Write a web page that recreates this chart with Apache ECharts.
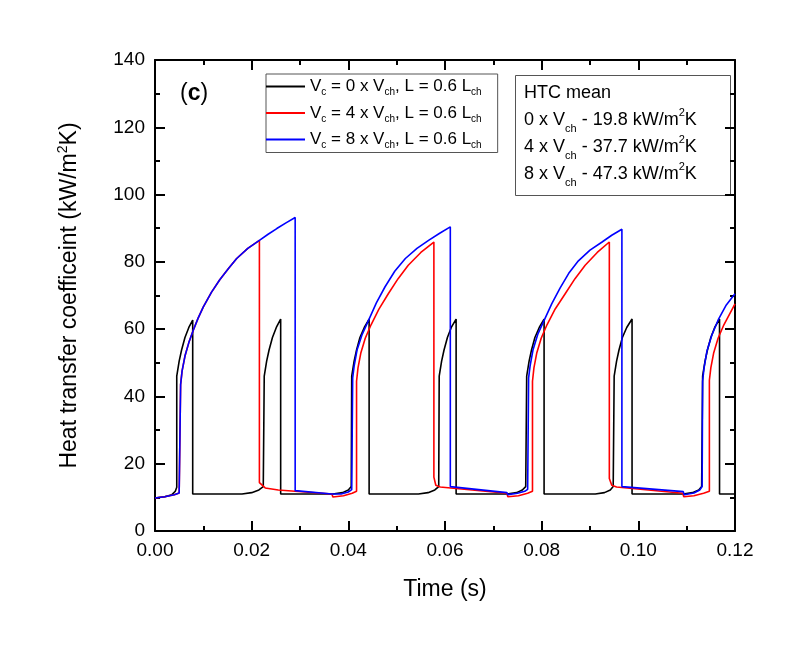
<!DOCTYPE html>
<html>
<head>
<meta charset="utf-8">
<script src="https://cdn.jsdelivr.net/npm/echarts@6/dist/echarts.min.js"></script>
<style>
  html, body { margin: 0; padding: 0; background: #ffffff; }
  #chart { width: 800px; height: 648px; }
</style>
</head>
<body>
<div id="chart"></div>
<script>
// [time (s), HTC (kW/m2K)]
const htcVc0 = [
  [0, 9.8], [0.002, 10.2], [0.0035, 10.8], [0.0042, 11.8], [0.0045, 13.0],
  [0.0045, 46.0], [0.0050, 50.5], [0.0055, 53.8], [0.0062, 57.5], [0.0070, 60.5], [0.0078, 62.7],
  [0.0078, 11.0], [0.0180, 11.0], [0.0200, 11.4], [0.0215, 12.2], [0.0224, 13.2],
  [0.0226, 46.0], [0.0231, 50.5], [0.0236, 53.8], [0.0243, 57.5], [0.0251, 60.5], [0.0260, 63.0],
  [0.0260, 11.0], [0.0368, 11.0], [0.0388, 11.4], [0.0400, 12.2], [0.0406, 13.2],
  [0.0407, 46.0], [0.0412, 50.5], [0.0417, 53.8], [0.0424, 57.5], [0.0433, 60.5], [0.0443, 63.0],
  [0.0443, 11.0], [0.0545, 11.0], [0.0565, 11.4], [0.0579, 12.2], [0.0587, 13.2],
  [0.0588, 46.0], [0.0593, 50.5], [0.0598, 53.8], [0.0605, 57.5], [0.0613, 60.5], [0.0623, 63.0],
  [0.0623, 11.0], [0.0728, 11.0], [0.0748, 11.4], [0.0760, 12.2], [0.0767, 13.2],
  [0.0769, 46.0], [0.0774, 50.5], [0.0779, 53.8], [0.0786, 57.5], [0.0795, 60.5], [0.0805, 63.0],
  [0.0805, 11.0], [0.0911, 11.0], [0.0930, 11.4], [0.0942, 12.2], [0.0948, 13.2],
  [0.0950, 46.0], [0.0955, 50.5], [0.0960, 53.8], [0.0967, 57.5], [0.0976, 60.5], [0.0987, 63.0],
  [0.0987, 11.0], [0.1093, 11.0], [0.1112, 11.4], [0.1125, 12.2], [0.1131, 13.2],
  [0.1133, 46.0], [0.1138, 50.5], [0.1143, 53.8], [0.1150, 57.5], [0.1158, 60.5], [0.1168, 63.0],
  [0.1168, 11.0], [0.1200, 11.0]
];

const htcVc4 = [
  [0, 9.8], [0.002, 10.2], [0.004, 10.8], [0.0050, 11.3], [0.0053, 11.8],
  [0.0053, 43.5], [0.0056, 47.5], [0.0062, 52.0], [0.0070, 56.0], [0.0079, 59.6], [0.0089, 63.2],
  [0.0100, 66.6], [0.0117, 71.0], [0.0134, 74.7], [0.0152, 78.0], [0.0169, 81.0], [0.0192, 84.0], [0.0216, 86.4],
  [0.0216, 14.4], [0.0228, 12.8], [0.0255, 12.2], [0.0366, 11.0], [0.0368, 10.1],
  [0.0390, 10.5], [0.0408, 11.2], [0.0417, 11.8],
  [0.0417, 44.5], [0.0420, 48.5], [0.0426, 53.0], [0.0435, 57.3], [0.0447, 61.3], [0.0463, 65.9],
  [0.0483, 70.6], [0.0503, 75.0], [0.0524, 79.0], [0.0550, 82.8], [0.0577, 85.9],
  [0.0577, 16.0], [0.0581, 13.6], [0.0590, 13.1], [0.0728, 11.2], [0.0730, 10.2],
  [0.0752, 10.5], [0.0771, 11.2], [0.0781, 11.8],
  [0.0781, 44.5], [0.0784, 48.5], [0.0790, 53.0], [0.0799, 57.3], [0.0811, 61.3], [0.0828, 66.0],
  [0.0849, 70.6], [0.0869, 75.0], [0.0890, 79.0], [0.0915, 82.8], [0.0940, 85.9],
  [0.0940, 15.6], [0.0945, 13.6], [0.0955, 13.1], [0.1092, 11.2], [0.1094, 10.2],
  [0.1115, 10.5], [0.1135, 11.2], [0.1147, 11.8],
  [0.1147, 44.8], [0.1150, 48.5], [0.1156, 53.0], [0.1165, 57.3], [0.1177, 61.3], [0.1200, 67.5]
];

const htcVc8 = [
  [0, 9.8], [0.002, 10.2], [0.004, 10.8], [0.0050, 11.3], [0.0053, 11.8],
  [0.0053, 43.5], [0.0056, 47.5], [0.0062, 52.0], [0.0070, 56.0], [0.0079, 59.6], [0.0089, 63.2],
  [0.0100, 66.6], [0.0117, 71.0], [0.0134, 74.7], [0.0152, 78.0], [0.0169, 81.0], [0.0192, 84.0], [0.0216, 86.4],
  [0.0234, 88.2], [0.0252, 89.9], [0.0271, 91.6], [0.0290, 93.2],
  [0.0290, 12.0], [0.0366, 11.0], [0.0368, 10.6],
  [0.0385, 11.0], [0.0400, 11.6], [0.0407, 12.3], [0.0409, 12.6],
  [0.0409, 45.5], [0.0412, 49.0], [0.0418, 53.8], [0.0428, 58.2], [0.0442, 62.7], [0.0458, 67.8],
  [0.0476, 72.6], [0.0496, 77.2], [0.0518, 81.0], [0.0542, 84.0], [0.0566, 86.4], [0.0589, 88.5], [0.0611, 90.4],
  [0.0611, 13.2], [0.0728, 11.4], [0.0730, 10.8],
  [0.0750, 11.2], [0.0765, 11.8], [0.0771, 12.4], [0.0773, 12.6],
  [0.0773, 45.5], [0.0776, 49.0], [0.0782, 53.8], [0.0792, 58.5], [0.0807, 63.2], [0.0821, 67.6],
  [0.0838, 72.2], [0.0856, 76.6], [0.0876, 80.3], [0.0900, 83.5], [0.0925, 85.9], [0.0945, 87.9], [0.0966, 89.7],
  [0.0966, 13.2], [0.1093, 11.7], [0.1095, 10.8],
  [0.1115, 11.3], [0.1127, 12.2], [0.1132, 13.2],
  [0.1133, 44.5], [0.1136, 48.5], [0.1142, 53.5], [0.1152, 58.2], [0.1166, 63.0], [0.1182, 67.2], [0.1200, 70.5]
];

const velocityRatios = [0, 4, 8];
const seriesColors = ['#000000', '#ff0000', '#0000ff'];
const htcMeans = ['19.8', '37.7', '47.3'];

const chart = echarts.init(document.getElementById('chart'));
const font = 'Liberation Sans, Arial, Helvetica, sans-serif';
const seriesNames = velocityRatios.map(r => 'Vc = ' + r + ' x Vch, L = 0.6 Lch');

const htcText = ['{m|HTC mean}'].concat(velocityRatios.map((r, i) =>
  '{m|' + r + ' x V}{s|ch}{m| - ' + htcMeans[i] + ' kW/m}{p|2}{m|K}')).join('\n');

const frameAxis = {
  type: 'value',
  min: 0,
  axisLine: { show: true, onZero: false, lineStyle: { color: '#000', width: 2 } },
  axisTick: { show: true, inside: true, length: 10, lineStyle: { color: '#000', width: 2 } },
  minorTick: { show: true, splitNumber: 2, length: 5, lineStyle: { color: '#000', width: 2 } },
  splitLine: { show: false }
};

chart.setOption({
  backgroundColor: '#ffffff',
  animation: false,
  textStyle: { fontFamily: font },
  graphic: [
    {
      type: 'text',
      left: 180,
      top: 82,
      style: {
        text: '{n|(}{b|c}{n|)}',
        rich: {
          n: { fontSize: 23, fontFamily: font, fontWeight: 'normal', fill: '#000' },
          b: { fontSize: 23, fontFamily: font, fontWeight: 'bold', fill: '#000' }
        }
      }
    },
    {
      type: 'rect',
      shape: { x: 515.5, y: 75.5, width: 215, height: 120 },
      style: { fill: null, stroke: '#555', lineWidth: 1 }
    },
    {
      type: 'text',
      x: 524,
      y: 80,
      style: {
        text: htcText,
        rich: {
          m: { fontSize: 18, lineHeight: 27, fontFamily: font, fill: '#000' },
          s: { fontSize: 11, lineHeight: 14, verticalAlign: 'bottom', fontFamily: font, fill: '#000' },
          p: { fontSize: 11, lineHeight: 18, verticalAlign: 'top', fontFamily: font, fill: '#000' }
        }
      }
    }
  ],
  legend: {
    left: 266,
    top: 74,
    orient: 'vertical',
    icon: 'rect',
    itemWidth: 39,
    itemHeight: 2,
    itemGap: 7,
    padding: [4, 16, 2, 0],
    borderColor: '#555',
    borderWidth: 1,
    data: seriesNames,
    formatter: function (name) {
      const r = velocityRatios[seriesNames.indexOf(name)];
      return '{m|V}{s|c}{m| = ' + r + ' x V}{s|ch}{m|, L = 0.6 L}{s|ch}';
    },
    textStyle: {
      rich: {
        m: { fontSize: 17, lineHeight: 22, fontFamily: font, color: '#000' },
        s: { fontSize: 10, lineHeight: 12, verticalAlign: 'bottom', fontFamily: font, color: '#000' }
      }
    }
  },
  grid: { left: 155, right: 65, top: 60, bottom: 117, containLabel: false },
  xAxis: [
    Object.assign({}, frameAxis, {
      position: 'bottom',
      max: 0.12,
      interval: 0.02,
      name: 'Time (s)',
      nameLocation: 'middle',
      nameGap: 47,
      nameTextStyle: { fontSize: 23, color: '#000', fontFamily: font },
      axisLabel: {
        margin: 10, fontSize: 19, color: '#000', fontFamily: font,
        formatter: v => v.toFixed(2)
      }
    }),
    Object.assign({}, frameAxis, {
      position: 'top',
      max: 0.12,
      interval: 0.02,
      axisLabel: { show: false }
    })
  ],
  yAxis: [
    Object.assign({}, frameAxis, {
      position: 'left',
      max: 140,
      interval: 20,
      name: '{m|Heat transfer coefficeint (kW/m}{p|2}{m|K)}',
      nameLocation: 'middle',
      nameGap: 71,
      nameTextStyle: {
        color: '#000',
        rich: {
          m: { fontSize: 23, lineHeight: 28, fontFamily: font, color: '#000' },
          p: { fontSize: 14, lineHeight: 20, verticalAlign: 'top', fontFamily: font, color: '#000' }
        }
      },
      axisLabel: { margin: 10, fontSize: 19, color: '#000', fontFamily: font }
    }),
    Object.assign({}, frameAxis, {
      position: 'right',
      max: 140,
      interval: 20,
      axisLabel: { show: false }
    })
  ],
  series: [htcVc0, htcVc4, htcVc8].map((d, i) => ({
    name: seriesNames[i],
    type: 'line',
    xAxisIndex: 0,
    yAxisIndex: 0,
    data: d,
    symbol: 'none',
    showSymbol: false,
    color: seriesColors[i],
    lineStyle: { color: seriesColors[i], width: 1.6 }
  }))
});
</script>
</body>
</html>
